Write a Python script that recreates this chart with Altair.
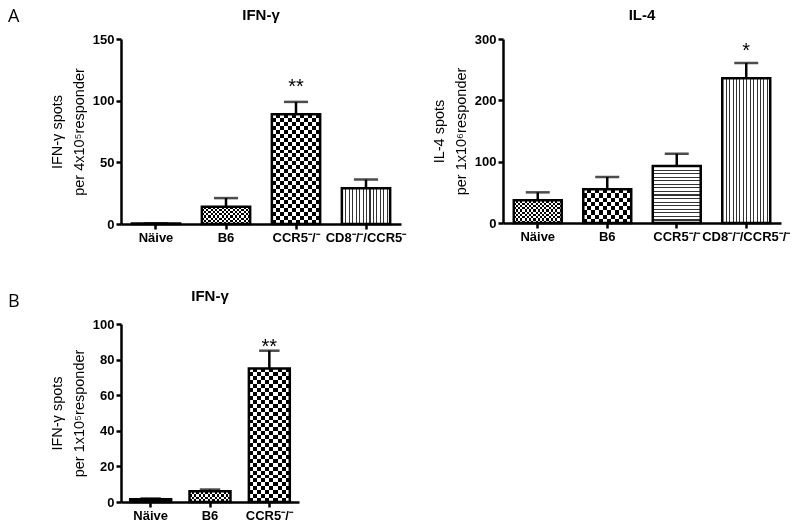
import altair as alt
import pandas as pd

FONT = "Liberation Sans"
PI = 0.31

# ---- data ----
a1_cats = ["Näive", "B6", "CCR5⁻/⁻", "CD8⁻/⁻/CCR5⁻"]
a1_vals = [0.5, 14, 89, 29]
a1_tops = [0.5, 21, 99, 36]
a1_sig = ["", "", "**", ""]
a1_sig_y = [0, 0, 115, 0]
a1_pats = ["solid", "fine", "coarse", "vlines"]
a1_ticks = [0, 50, 100, 150]

a2_cats = ["Näive", "B6", "CCR5⁻/⁻", "CD8⁻/⁻/CCR5⁻/⁻"]
a2_vals = [37, 55, 93, 236]
a2_tops = [50, 75, 113, 261]
a2_sig = ["", "", "", "*"]
a2_sig_y = [0, 0, 0, 289]
a2_pats = ["fine", "coarse", "hlines", "vlines"]
a2_ticks = [0, 100, 200, 300]

b_cats = ["Näive", "B6", "CCR5⁻/⁻"]
b_vals = [1.5, 6, 75]
b_tops = [2, 7, 85]
b_sig = ["", "", "**"]
b_sig_y = [0, 0, 90]
b_pats = ["solid", "fine", "coarse"]
b_ticks = [0, 20, 40, 60, 80, 100]


def stripes(n, duty, c_on, c_off, vertical):
    n = max(1, int(round(n)))
    stops = []
    for i in range(n):
        a, b, c = i / n, (i + duty) / n, (i + 1) / n
        stops += [(a, c_on), (b, c_on), (b, c_off), (c, c_off)]
    return {"gradient": "linear", "x1": 0, "y1": 0,
            "x2": 1 if vertical else 0, "y2": 0 if vertical else 1,
            "stops": [{"offset": round(o, 5), "color": col} for o, col in stops]}


def panel(cats, vals, tops, sigs, sig_y, pats, ymax, yticks, w, h, title, title_dy,
          ytitle, letter):
    df = pd.DataFrame({"cat": cats, "val": vals, "top": tops, "sig": sigs, "sy": sig_y})
    xs = alt.Scale(domain=cats, paddingInner=PI, paddingOuter=PI / 2)
    xax = alt.Axis(title=None, labelAngle=0, labelFont=FONT, labelFontWeight="bold",
                   labelFontSize=13, labelColor="black", domainColor="black",
                   domainWidth=2.5, tickColor="black", tickWidth=2.5, tickSize=5,
                   labelPadding=2)
    ys = alt.Scale(domain=[0, ymax], nice=False, zero=True)
    yax = alt.Axis(title=ytitle, values=yticks, grid=False, labelFont=FONT,
                   labelFontWeight="bold", labelFontSize=13, labelColor="black",
                   domainColor="black", domainWidth=2.5, tickColor="black",
                   tickWidth=2.5, tickSize=5, labelPadding=2, titleFont=FONT,
                   titleFontWeight="normal", titleFontSize=14.5, titleColor="black",
                   titleLineHeight=22, titlePadding=6)

    def X():
        return alt.X("cat:N", scale=xs, axis=xax, sort=cats)

    def Y(f):
        return alt.Y(f + ":Q", scale=ys, axis=yax)

    base = alt.Chart(df)
    bw = w / len(cats) * (1 - PI)
    layers = []
    for c, v, p in zip(cats, vals, pats):
        bh = v * h / ymax
        b = base.transform_filter(alt.datum.cat == c)
        enc = dict(x=X(), y=Y("val"))
        if p == "solid":
            layers.append(b.mark_bar(fill="black", strokeWidth=0).encode(**enc))
        elif p in ("fine", "coarse"):
            cell = 2.2 if p == "fine" else 4
            layers.append(b.mark_bar(fill=stripes(bw / (2 * cell), 0.5, "black", "white", True),
                                     strokeWidth=0).encode(**enc))
            layers.append(b.mark_bar(fill=stripes(bh / (2 * cell), 0.5, "white", "black", False),
                                     strokeWidth=0, blend="difference").encode(**enc))
        elif p == "vlines":
            layers.append(b.mark_bar(fill=stripes(bw / 3.5, 0.32, "#333333", "white", True),
                                     strokeWidth=0).encode(**enc))
        elif p == "hlines":
            layers.append(b.mark_bar(fill=stripes(bh / 3.5, 0.32, "#333333", "white", False),
                                     strokeWidth=0).encode(**enc))
    outline = base.mark_bar(filled=False, color="black", strokeWidth=2.5).encode(x=X(), y=Y("val"))
    err = base.mark_rule(color="black", strokeWidth=2.5).encode(x=X(), y=Y("val"), y2="top:Q")
    cap = base.mark_tick(color="black", thickness=2.5, size=bw / 2).encode(x=X(), y=Y("top"))
    stars = base.transform_filter(alt.datum.sig != "").mark_text(
        font=FONT, fontSize=20, baseline="alphabetic", dy=11, color="black"
    ).encode(x=X(), y=Y("sy"), text="sig:N")
    lab = pd.DataFrame({"t": [title], "l": [letter]})
    ttl = alt.Chart(lab).mark_text(
        align="center", baseline="alphabetic", fontSize=15, fontWeight="bold",
        font=FONT, color="black"
    ).encode(x=alt.value(w / 2), y=alt.value(title_dy), text="t:N")
    out = [*layers, outline, err, cap, stars, ttl]
    if letter:
        out.append(alt.Chart(lab).mark_text(
            align="left", baseline="top", fontSize=18, font="Open Sans", color="black"
        ).encode(x=alt.value(-113), y=alt.value(-31), text="l:N"))
    return alt.layer(*out).properties(width=w, height=h)


a1 = panel(a1_cats, a1_vals, a1_tops, a1_sig, a1_sig_y, a1_pats, 150, a1_ticks, 280, 185,
           "IFN-γ", -19, ["IFN-γ spots", "per 4x10⁵responder"], "A")
a2 = panel(a2_cats, a2_vals, a2_tops, a2_sig, a2_sig_y, a2_pats, 300, a2_ticks, 278, 184,
           "IL-4", -19, ["IL-4 spots", "per 1x10⁶responder"], "")
bp = panel(b_cats, b_vals, b_tops, b_sig, b_sig_y, b_pats, 100, b_ticks, 178, 178,
           "IFN-γ", -23, ["IFN-γ spots", "per 1x10⁵responder"], "B")

chart = alt.concat(a1, a2, bp, columns=2, spacing={"row": 100, "column": 102},
                   bounds="flush").resolve_scale(
    x="independent", y="independent"
).properties(padding=0).configure_view(strokeWidth=0)

chart.save("out.html", embed_options={"renderer": "svg", "actions": False})
